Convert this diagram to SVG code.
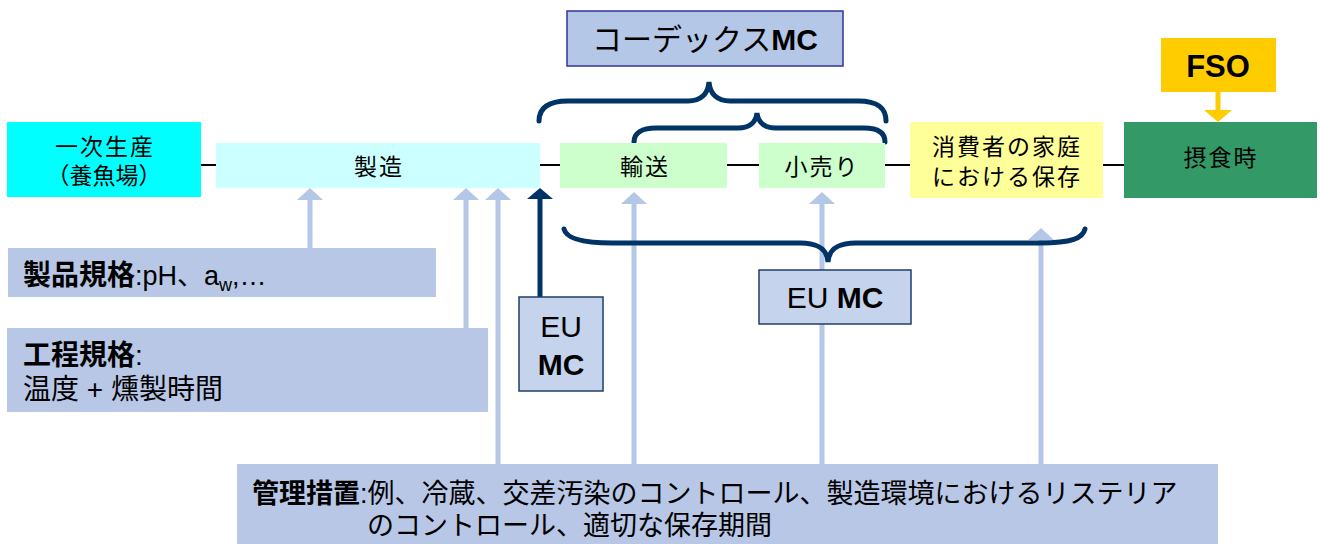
<svg xmlns="http://www.w3.org/2000/svg" width="1320" height="544" viewBox="0 0 1320 544">
<style>
text{font-family:"Liberation Sans","Noto Sans CJK JP",sans-serif;fill:#000}
.lbl{font-size:23px;letter-spacing:2px;text-anchor:middle}
.b{font-weight:bold}
.conn{stroke:#000;stroke-width:2;fill:none}
.la{stroke:#B4C7E7;stroke-width:5;fill:none;marker-end:url(#lh)}
.brace{stroke:#003366;stroke-width:5;fill:none;stroke-linecap:round}
.spec{fill:#B8C7E6}
.eu{fill:#C5D3EC;stroke:#1F3F66;stroke-width:1.5}
</style>
<defs>
<marker id="lh" markerUnits="userSpaceOnUse" viewBox="0 0 12 26" refX="0" refY="13" markerWidth="12" markerHeight="26" orient="auto">
<path d="M0,0 L12,13 L0,26 z" fill="#B4C7E7"/>
</marker>
<marker id="dh" markerUnits="userSpaceOnUse" viewBox="0 0 11 26" refX="0" refY="13" markerWidth="11" markerHeight="26" orient="auto">
<path d="M0,0 L11,13 L0,26 z" fill="#003366"/>
</marker>
<marker id="yh" markerUnits="userSpaceOnUse" viewBox="0 0 12 28" refX="0" refY="14" markerWidth="12" markerHeight="28" orient="auto">
<path d="M0,0 L12,14 L0,28 z" fill="#FFCC00"/>
</marker>
</defs>

<g id="connectors">
<line class="conn" x1="201" y1="165" x2="216" y2="165"/>
<line class="conn" x1="540" y1="165" x2="560" y2="165"/>
<line class="conn" x1="727" y1="165" x2="759" y2="165"/>
<line class="conn" x1="885" y1="165" x2="910" y2="165"/>
<line class="conn" x1="1103" y1="165" x2="1124" y2="165"/>
<line class="la" x1="310" y1="248" x2="310" y2="200"/>
<line class="la" x1="466" y1="328" x2="466" y2="200"/>
<line class="la" x1="498" y1="464" x2="498" y2="200"/>
<line class="la" x1="634" y1="464" x2="634" y2="204"/>
<line class="la" x1="822" y1="464" x2="822" y2="204"/>
<line class="la" x1="1041" y1="464" x2="1041" y2="240"/>
<line x1="540" y1="297" x2="540" y2="199" stroke="#003366" stroke-width="5" marker-end="url(#dh)"/>
<line x1="1218" y1="92" x2="1218" y2="110" stroke="#FFCC00" stroke-width="5" marker-end="url(#yh)"/>
<path class="brace" d="M539,121 C539,108 548,101 568,101 L688,101 C701,101 708,94 709,82 C710,94 717,101 730,101 L858,101 C878,101 886,108 886,121"/>
<path class="brace" d="M634,142 C634,133 642,128 656,128 L738,128 C750,128 756,122 757,113 C758,122 764,128 776,128 L864,128 C878,128 885,133 885,142"/>
<path class="brace" d="M564,229 C566,238 580,243 612,243 L800,243 C820,243 827,250 828,262 C829,250 836,243 856,243 L1040,243 C1072,243 1083,238 1085,229"/>
</g>

<g id="n-primary">
<rect x="7" y="122" width="194" height="75" fill="#00FFFF"/>
<text class="lbl" x="105" y="155">一次生産</text>
<text x="104" y="184" font-size="23" text-anchor="middle">（養魚場）</text>
</g>
<g id="n-manufacture">
<rect x="216" y="143" width="324" height="45" fill="#CCFFFF"/>
<text class="lbl" x="379" y="175">製造</text>
</g>
<g id="n-transport">
<rect x="560" y="143" width="167" height="45" fill="#CCFFCC"/>
<text class="lbl" x="645" y="175">輸送</text>
</g>
<g id="n-retail">
<rect x="759" y="143" width="126" height="45" fill="#CCFFCC"/>
<text class="lbl" x="822" y="175">小売り</text>
</g>
<g id="n-home">
<rect x="910" y="122" width="193" height="76" fill="#FFFF99"/>
<text class="lbl" x="1007" y="155">消費者の家庭</text>
<text class="lbl" x="1007" y="185">における保存</text>
</g>
<g id="n-consumption">
<rect x="1124" y="122" width="193" height="76" fill="#339966"/>
<text class="lbl" x="1221" y="166">摂食時</text>
</g>
<g id="n-fso">
<rect x="1161" y="38" width="115" height="54" fill="#FFCC00"/>
<text class="b" x="1218" y="77" font-size="31" text-anchor="middle">FSO</text>
</g>
<g id="n-codex">
<rect x="567" y="11" width="276" height="55" fill="#B4C7E7" stroke="#333399" stroke-width="1.5"/>
<text x="705" y="50" font-size="30" text-anchor="middle">コーデックス<tspan class="b">MC</tspan></text>
</g>
<g id="n-eumc-big">
<rect class="eu" x="759" y="270" width="152" height="54"/>
<text x="835" y="308" font-size="30" text-anchor="middle">EU <tspan class="b">MC</tspan></text>
</g>
<g id="n-eumc-small">
<rect class="eu" x="519" y="297" width="84" height="94"/>
<text x="561" y="337" font-size="30" text-anchor="middle">EU</text>
<text class="b" x="561" y="375" font-size="30" text-anchor="middle">MC</text>
</g>
<g id="n-product-spec">
<rect class="spec" x="8" y="248" width="428" height="49"/>
<text x="23" y="285" font-size="27"><tspan class="b" font-size="28">製品規格</tspan>:pH、a<tspan font-size="18" dy="6">w</tspan><tspan dy="-6">,…</tspan></text>
</g>
<g id="n-process-spec">
<rect class="spec" x="7" y="328" width="481" height="84"/>
<text x="23" y="365" font-size="28"><tspan class="b">工程規格</tspan>:</text>
<text x="23" y="399" font-size="28">温度 + 燻製時間</text>
</g>
<g id="n-control">
<rect class="spec" x="237" y="464" width="981" height="80"/>
<text x="252" y="503" font-size="27"><tspan class="b">管理措置</tspan>:例、冷蔵、交差汚染のコントロール、製造環境におけるリステリア</text>
<text x="367" y="535" font-size="27">のコントロール、適切な保存期間</text>
</g>
</svg>
